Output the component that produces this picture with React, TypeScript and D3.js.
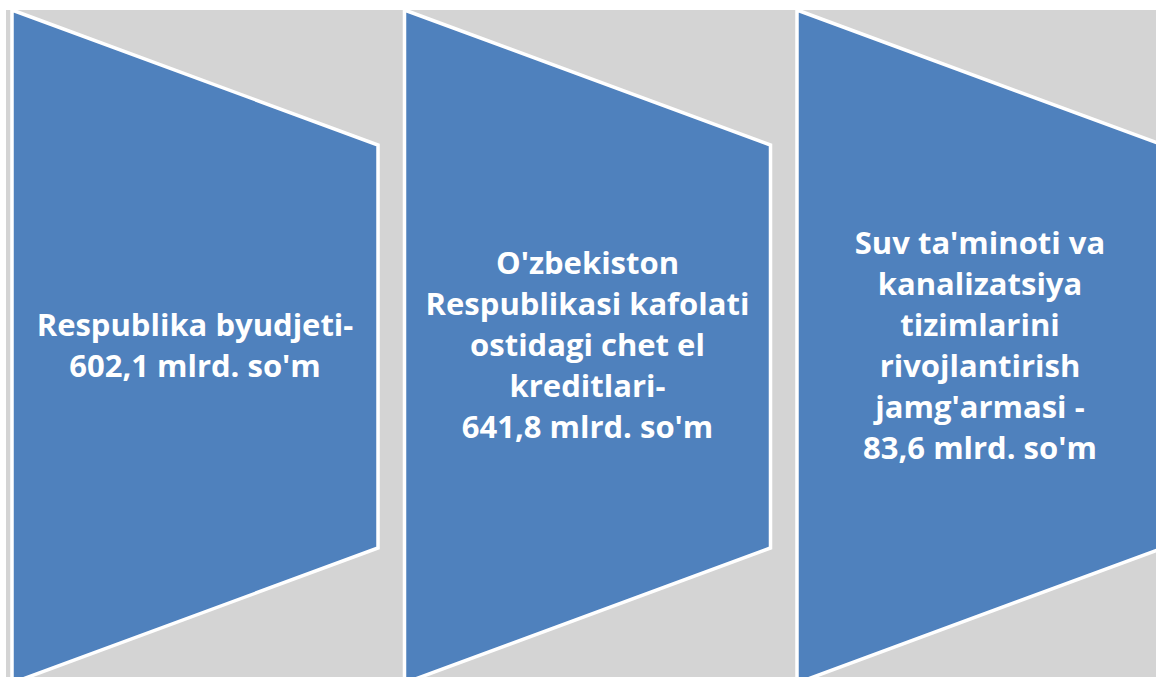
import React, { useRef, useEffect } from 'react';
import * as d3 from 'd3';

const categories = ['budget', 'credits', 'fund'];
const labelLines = [
  ['Respublika byudjeti-', "602,1 mlrd. so'm"],
  ["O'zbekiston", 'Respublikasi kafolati', 'ostidagi chet el', 'kreditlari-', "641,8 mlrd. so'm"],
  ["Suv ta'minoti va", 'kanalizatsiya', 'tizimlarini', 'rivojlantirish', "jamg'armasi -", "83,6 mlrd. so'm"],
];

export default function App() {
  const svgRef = useRef<SVGSVGElement>(null);

  useEffect(() => {
    const width = 1156;
    const height = 677;
    const top = 10;
    const bottom = 683;
    const notch = 135; // how far the right edge is inset from top/bottom
    const lineHeight = 41;
    const midY = (top + bottom) / 2;

    const svg = d3.select(svgRef.current);
    svg.selectAll('*').remove();
    svg.attr('width', width).attr('height', height).attr('viewBox', [0, 0, width, height].join(' '));

    svg.append('rect').attr('width', width).attr('height', height).attr('fill', '#ffffff');
    svg.append('rect')
      .attr('x', 6).attr('y', top)
      .attr('width', width - 6).attr('height', height - top)
      .attr('fill', '#d4d4d4');

    const x = d3.scaleBand()
      .domain(categories)
      .range([12, 1163])
      .paddingInner(0.0675);

    const line = d3.line();
    const shapePath = (c: string) => {
      const x0 = x(c)!;
      const x1 = x0 + x.bandwidth();
      return line([
        [x0, top], [x1, top + notch], [x1, bottom - notch], [x0, bottom],
      ]) + 'Z';
    };

    svg.append('g')
      .selectAll('path')
      .data(categories)
      .join('path')
      .attr('d', d => shapePath(d))
      .attr('fill', '#4f81bd')
      .attr('stroke', '#ffffff')
      .attr('stroke-width', 3.5)
      .attr('stroke-linejoin', 'miter');

    const labels = svg.append('g')
      .attr('font-family', '"Open Sans", Lato, sans-serif')
      .attr('font-weight', 'bold')
      .attr('font-size', 31)
      .attr('fill', '#ffffff')
      .attr('text-anchor', 'middle')
      .style('font-variant-ligatures', 'none');

    categories.forEach((c, i) => {
      const lines = labelLines[i];
      const cx = x(c)! + x.bandwidth() / 2;
      const y0 = midY - ((lines.length - 1) * lineHeight) / 2;
      labels.append('text')
        .selectAll('tspan')
        .data(lines)
        .join('tspan')
        .attr('x', cx)
        .attr('y', (_, j) => y0 + j * lineHeight)
        .attr('dy', '0.32em')
        .text(d => d);
    });
  }, []);

  return (
    <div style={{ position: 'absolute', left: 0, top: 0 }}>
      <svg ref={svgRef} style={{ display: 'block' }}></svg>
    </div>
  );
}
